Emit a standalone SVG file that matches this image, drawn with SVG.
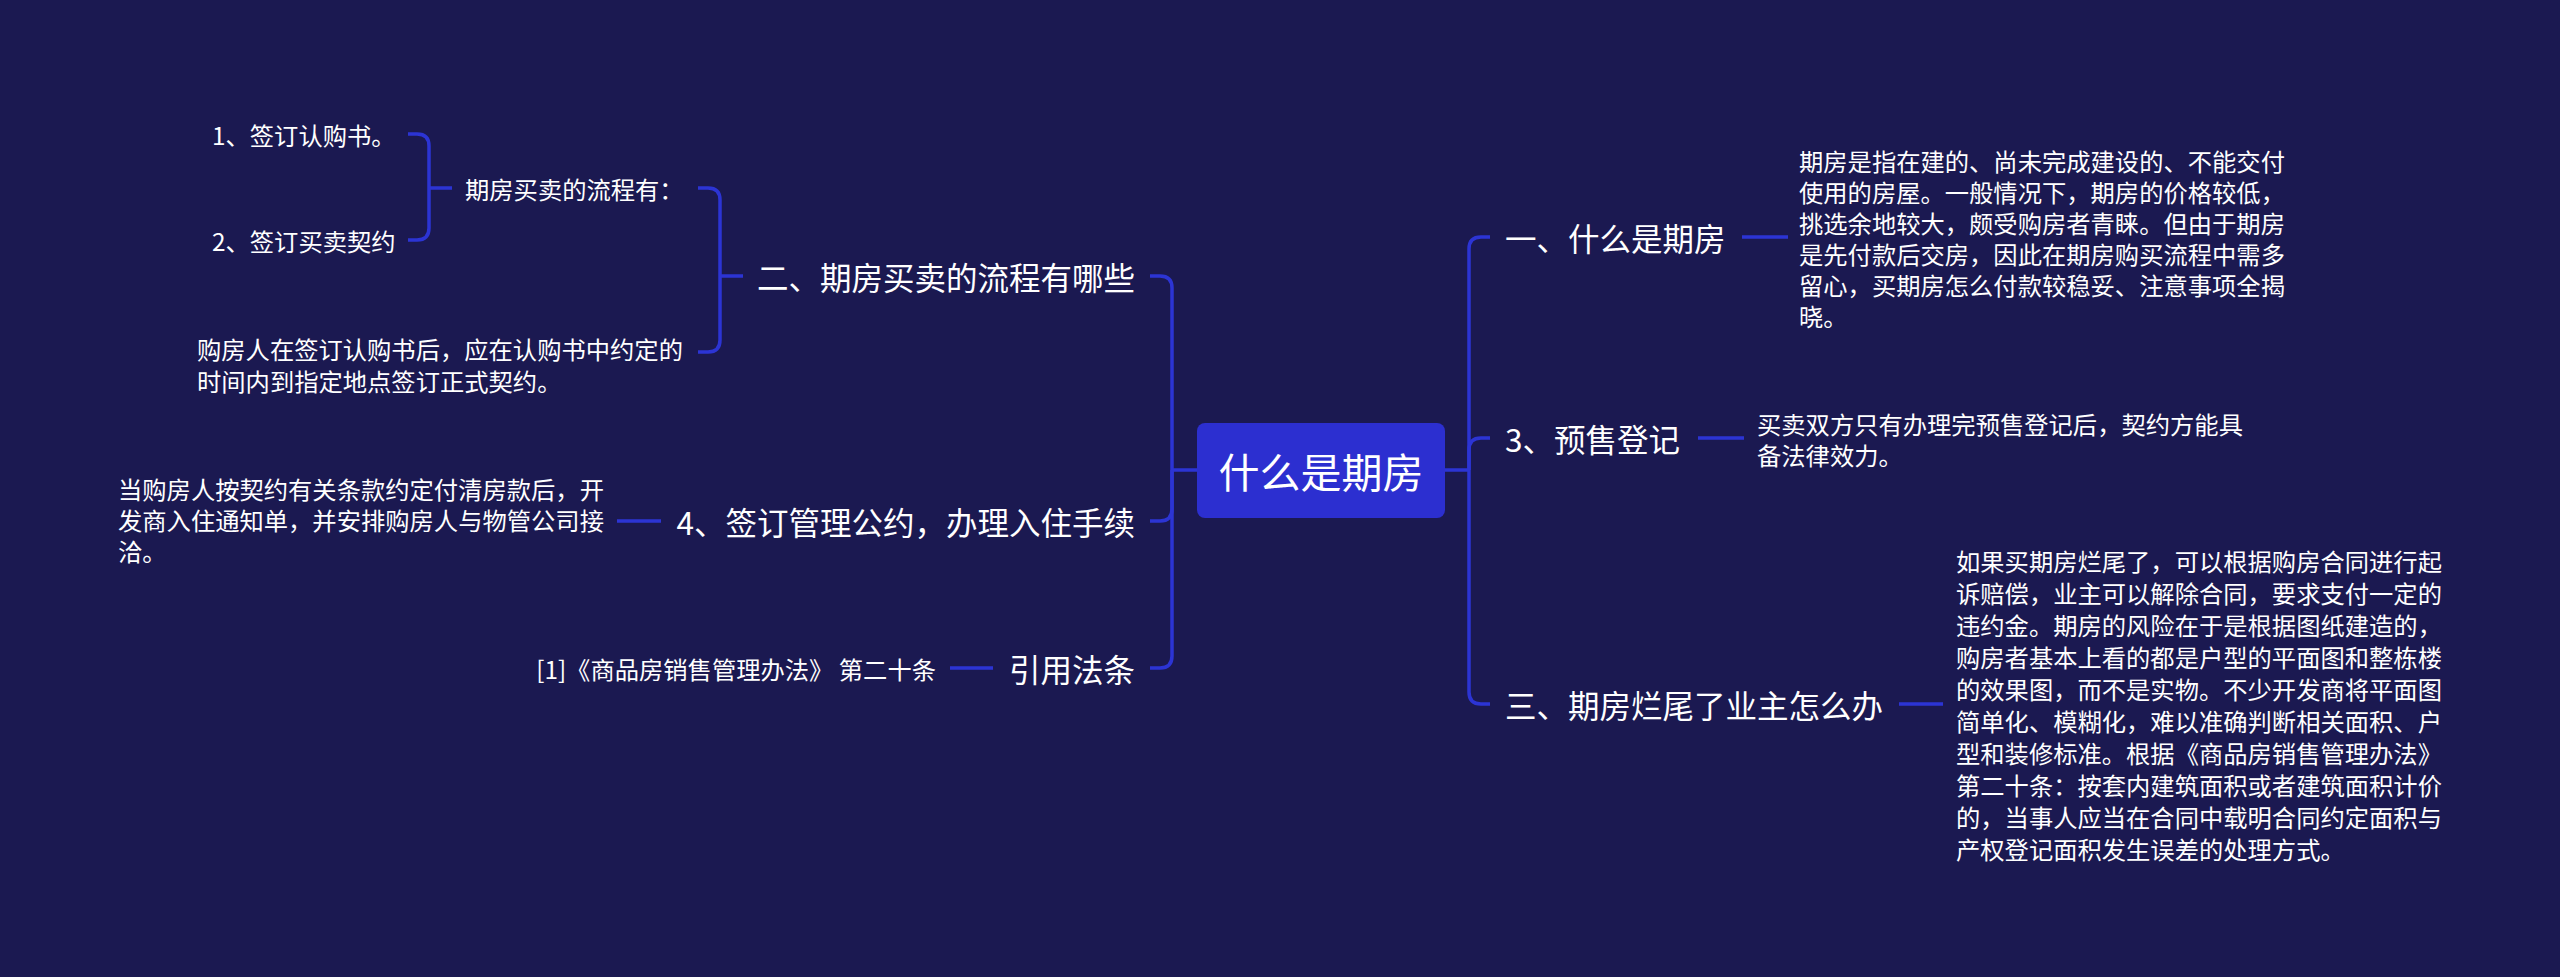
<svg xmlns="http://www.w3.org/2000/svg" width="2560" height="977" viewBox="0 0 2560 977">
<style>
text{font-family:"Noto Sans CJK SC","Noto Sans",sans-serif;fill:#fff;dominant-baseline:central}
.l1{font-size:31.5px}
.d{font-size:24.3px}
.c{fill:none;stroke:#2c34d4;stroke-width:3.5}
</style>
<rect width="2560" height="977" fill="#1b1951"/>
<g id="connectors">
<path class="c" d="M1197,470 H1172"/>
<path class="c" d="M1172,470 V288 Q1172,276 1160,276 H1150"/>
<path class="c" d="M1172,470 V509 Q1172,521 1160,521 H1150"/>
<path class="c" d="M1172,470 V656 Q1172,668 1160,668 H1150"/>
<path class="c" d="M1445,470 H1469"/>
<path class="c" d="M1469,470 V249 Q1469,237 1481,237 H1490"/>
<path class="c" d="M1469,470 V450 Q1469,438 1481,438 H1490"/>
<path class="c" d="M1469,470 V692 Q1469,704 1481,704 H1490"/>
<path class="c" d="M1742,237 H1788"/>
<path class="c" d="M1698,438 H1744"/>
<path class="c" d="M1899,704 H1943"/>
<path class="c" d="M743,276 H720"/>
<path class="c" d="M720,276 V200 Q720,188 708,188 H698"/>
<path class="c" d="M720,276 V340 Q720,352 708,352 H698"/>
<path class="c" d="M452,188 H429"/>
<path class="c" d="M429,188 V146 Q429,134 417,134 H408"/>
<path class="c" d="M429,188 V228 Q429,240 417,240 H408"/>
<path class="c" d="M661,521 H617"/>
<path class="c" d="M993,668 H950"/>
</g>
<g id="center"><rect x="1197" y="423" width="248" height="95" rx="8" fill="#2c2fd0"/><text x="1321" y="470" font-size="41" text-anchor="middle">什么是期房</text></g>
<g id="n1"><text class="l1" x="1505" y="237">一、什么是期房</text></g>
<g id="n1d"><text class="d" x="1799" y="160">期房是指在建的、尚未完成建设的、不能交付</text><text class="d" x="1799" y="191">使用的房屋。一般情况下，期房的价格较低，</text><text class="d" x="1799" y="222">挑选余地较大，颇受购房者青睐。但由于期房</text><text class="d" x="1799" y="253">是先付款后交房，因此在期房购买流程中需多</text><text class="d" x="1799" y="284">留心，买期房怎么付款较稳妥、注意事项全揭</text><text class="d" x="1799" y="315">晓。</text></g>
<g id="n2"><text class="l1" x="1505" y="438">3、预售登记</text></g>
<g id="n2d"><text class="d" x="1757" y="423">买卖双方只有办理完预售登记后，契约方能具</text><text class="d" x="1757" y="454">备法律效力。</text></g>
<g id="n3"><text class="l1" x="1505" y="704">三、期房烂尾了业主怎么办</text></g>
<g id="n3d"><text class="d" x="1956" y="560">如果买期房烂尾了，可以根据购房合同进行起</text><text class="d" x="1956" y="592">诉赔偿，业主可以解除合同，要求支付一定的</text><text class="d" x="1956" y="624">违约金。期房的风险在于是根据图纸建造的，</text><text class="d" x="1956" y="656">购房者基本上看的都是户型的平面图和整栋楼</text><text class="d" x="1956" y="688">的效果图，而不是实物。不少开发商将平面图</text><text class="d" x="1956" y="720">简单化、模糊化，难以准确判断相关面积、户</text><text class="d" x="1956" y="752">型和装修标准。根据《商品房销售管理办法》</text><text class="d" x="1956" y="784">第二十条：按套内建筑面积或者建筑面积计价</text><text class="d" x="1956" y="816">的，当事人应当在合同中载明合同约定面积与</text><text class="d" x="1956" y="848">产权登记面积发生误差的处理方式。</text></g>
<g id="n4"><text class="l1" x="1135" y="276" text-anchor="end">二、期房买卖的流程有哪些</text></g>
<g id="n4a"><text class="d" x="465" y="188">期房买卖的流程有：</text></g>
<g id="n4a1"><text class="d" x="212" y="134">1、签订认购书。</text></g>
<g id="n4a2"><text class="d" x="212" y="240">2、签订买卖契约</text></g>
<g id="n4b"><text class="d" x="197" y="348">购房人在签订认购书后，应在认购书中约定的</text><text class="d" x="197" y="380">时间内到指定地点签订正式契约。</text></g>
<g id="n5"><text class="l1" x="1135" y="521" text-anchor="end">4、签订管理公约，办理入住手续</text></g>
<g id="n5d"><text class="d" x="118" y="488">当购房人按契约有关条款约定付清房款后，开</text><text class="d" x="118" y="519">发商入住通知单，并安排购房人与物管公司接</text><text class="d" x="118" y="550">洽。</text></g>
<g id="n6"><text class="l1" x="1135" y="668" text-anchor="end">引用法条</text></g>
<g id="n6d"><text class="d" x="936" y="668" text-anchor="end">[1]《商品房销售管理办法》 第二十条</text></g>
</svg>
